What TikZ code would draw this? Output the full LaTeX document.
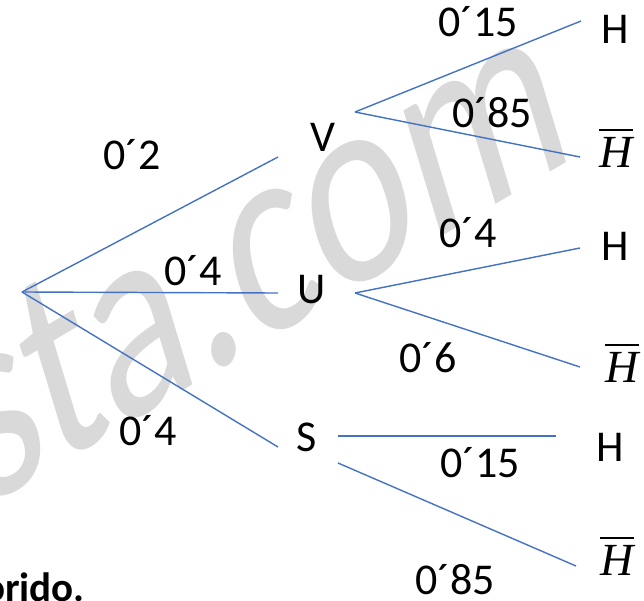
\documentclass[tikz,border=0pt]{standalone}
\usepackage{fontspec}
\setmainfont{Carlito}
\newfontfamily\hfont{Liberation Serif}
\definecolor{branch}{HTML}{4472C4}
\definecolor{wmark}{HTML}{D9D9D9}
% barred H (complement of event H)
\newcommand\Hneg{\leavevmode\vbox{\hrule height 2pt\kern 6pt\hbox{\hfont\itshape H}}}

\tikzset{
  branchline/.style={draw=branch, line width=1.4pt},
  prob/.style={inner sep=0pt, font=\fontsize{44}{52}\selectfont},
  event/.style={inner sep=0pt, font=\fontsize{44}{52}\selectfont},
  negevent/.style={inner sep=0pt, font=\fontsize{46}{52}\selectfont},
}

\begin{document}
\begin{tikzpicture}[x=1pt, y=-1pt]
\useasboundingbox (0,0) rectangle (644,601);

% background mark
\node[text=wmark, inner sep=0pt, anchor=base west, yscale=1.4, rotate=23,
      font=\fontsize{204}{204}\selectfont] (wm) at (-18,510) {sta.com};

% branch points
\coordinate (root) at (22,292);
\coordinate (vin)  at (278,157);
\coordinate (uin)  at (278,293);
\coordinate (sin)  at (278,447);
\coordinate (vout) at (355,112);
\coordinate (uout) at (355,293);
\coordinate (sout1) at (338,436);
\coordinate (sout2) at (338,463);
\coordinate (vh)  at (581,21);
\coordinate (vnh) at (580,157);
\coordinate (uh)  at (580,248);
\coordinate (unh) at (580,367);
\coordinate (sh)  at (556,436);
\coordinate (snh) at (576,566);

% first stage
\draw[branchline] (root) -- (vin);
\draw[branchline] (root) -- (uin);
\draw[branchline] (root) -- (sin);
% second stage
\draw[branchline] (vout) -- (vh);
\draw[branchline] (vout) -- (vnh);
\draw[branchline] (uout) -- (uh);
\draw[branchline] (uout) -- (unh);
\draw[branchline] (sout1) -- (sh);
\draw[branchline] (sout2) -- (snh);

% events
\node[event] (V) at (323,137) {V};
\node[event] (U) at (312,290) {U};
\node[event] (S) at (307,437) {S};
\node[event] (H1) at (615,29) {H};
\node[negevent] (NH1) at (616,148) {\Hneg};
\node[event] (H2) at (615,246) {H};
\node[negevent] (NH2) at (622,363) {\Hneg};
\node[event] (H3) at (610,447) {H};
\node[negevent] (NH3) at (617,556) {\Hneg};

% probabilities
\node[prob] (p1) at (132,155) {0´2};
\node[prob] (p2) at (193,271) {0´4};
\node[prob] (p3) at (148,431) {0´4};
\node[prob] (p4) at (478,22) {0´15};
\node[prob] (p5) at (492,113) {0´85};
\node[prob] (p6) at (468,233) {0´4};
\node[prob] (p7) at (428,358) {0´6};
\node[prob] (p8) at (480,463) {0´15};
\node[prob] (p9) at (455,580) {0´85};

% trailing text
\node[inner sep=0pt, anchor=base west, font=\fontsize{41}{48}\selectfont\bfseries] (tail) at (-17,601) {orido.};
\end{tikzpicture}
\end{document}
